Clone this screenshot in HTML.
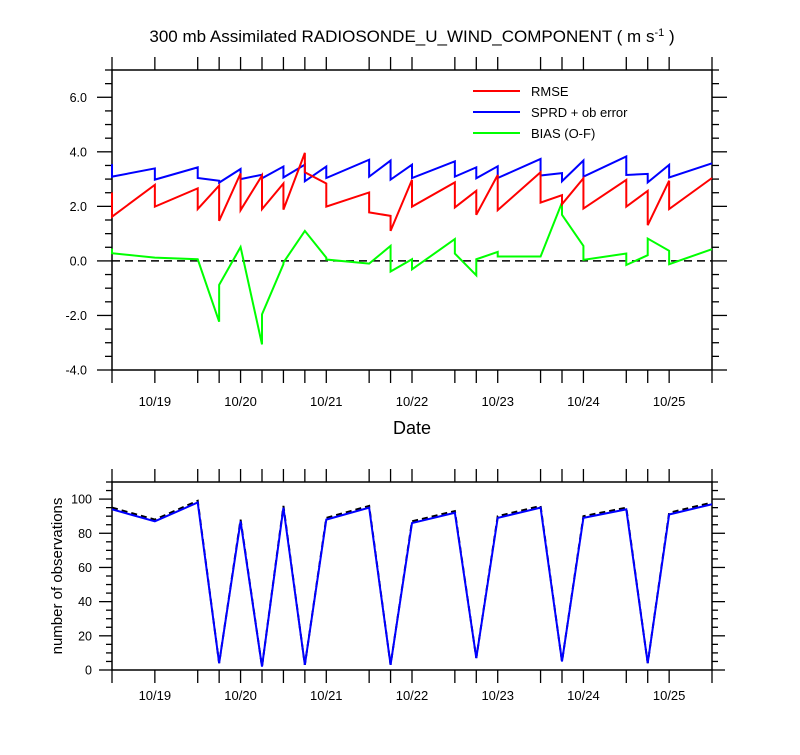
<!DOCTYPE html>
<html><head><meta charset="utf-8"><style>
body{margin:0;background:#fff;font-family:"Liberation Sans",sans-serif}
svg text{font-family:"Liberation Sans",sans-serif}
</style></head><body>
<svg id="chart" width="800" height="750" xmlns="http://www.w3.org/2000/svg">
<rect width="800" height="750" fill="#fff"/>
<text x="412" y="42" font-size="17" text-anchor="middle">300 mb Assimilated RADIOSONDE_U_WIND_COMPONENT ( m s<tspan dy="-6" font-size="11">-1</tspan><tspan dy="6"> )</tspan></text>
<g id="top"></g><g id="bot"></g>
<text x="412" y="434" font-size="18" text-anchor="middle">Date</text>
<text transform="translate(62,576) rotate(-90)" font-size="15" text-anchor="middle">number of observations</text>
</svg>
<script>
const days=["10/19","10/20","10/21","10/22","10/23","10/24","10/25"];
const dayPos=[0.5,1.5,2.5,3.5,4.5,5.5,6.5];
const rmseT=[0,0,0.5,0.5,1,1,1.25,1.25,1.5,1.5,1.75,1.75,2,2,2.25,2.25,2.5,2.5,3,3,3.25,3.25,3.5,3.5,4,4,4.25,4.25,4.5,4.5,5,5,5.25,5.25,5.5,5.5,6,6,6.25,6.25,6.5,6.5,7];
const rmseV=[2.51,1.62,2.79,1.99,2.66,1.9,2.76,1.47,3.21,1.86,3.13,1.9,2.84,1.88,3.96,3.25,2.84,1.99,2.51,1.78,1.65,1.1,2.97,1.99,2.88,1.96,2.57,1.69,3.15,1.86,3.25,2.14,2.41,2.08,3.03,1.92,2.97,1.99,2.57,1.31,2.94,1.9,3.04];
const sprdT=rmseT;
const sprdV=[3.55,3.09,3.39,2.98,3.43,3.04,2.94,2.87,3.37,3.0,3.16,3.03,3.46,3.06,3.53,2.92,3.46,3.04,3.71,3.09,3.68,2.98,3.53,3.04,3.65,3.09,3.43,3.03,3.47,3.04,3.74,3.13,3.22,2.92,3.68,3.09,3.83,3.15,3.19,2.88,3.52,3.06,3.58];
const biasT=rmseT;
const biasV=[0.45,0.28,0.12,0.12,0.06,0.06,-2.23,-0.88,0.51,0.51,-3.06,-1.96,-0.12,-0.06,1.1,1.1,0.12,0.05,-0.1,-0.1,0.55,-0.39,0.06,-0.31,0.8,0.27,-0.53,0.06,0.33,0.16,0.16,0.16,2.14,1.69,0.55,0.04,0.27,-0.15,0.21,0.82,0.37,-0.12,0.43];
const obsT=[0,0.5,1,1.25,1.5,1.75,2,2.25,2.5,3,3.25,3.5,4,4.25,4.5,5,5.25,5.5,6,6.25,6.5,7];
const obsA=[95,88,99,4,88,2,96,3,89,96,3,87,93,7,90,96,5,90,95,4,92,98];
const obsB=[94,87,98,4,87,2,95,3,88,95,3,86,92,7,89,95,5,89,94,4,91,97];
const yTicksTop=[-4,-2,0,2,4,6];
const yTicksBot=[0,20,40,60,80,100];
const xTickT=[0,0.5,1,1.25,1.5,1.75,2,2.25,2.5,3,3.25,3.5,4,4.25,4.5,5,5.25,5.5,6,6.25,6.5,7];
const NS="http://www.w3.org/2000/svg";
function mk(p,t,a){const e=document.createElementNS(NS,t);for(const k in a)e.setAttribute(k,a[k]);p.appendChild(e);return e;}
const X0=112,X1=712;
const x=t=>X0+(X1-X0)*t/7;
function panel(g,Y0,Y1,ymin,ymax,yt,minorStep,name,ML,mL,labGap,xLab){
  const y=v=>Y1-(Y1-Y0)*(v-ymin)/(ymax-ymin);
  for(let v=ymin;v<=ymax+1e-9;v+=minorStep){const yy=y(v);const maj=yt.some(q=>Math.abs(q-v)<1e-9);const L=maj?ML:mL;
    let l=mk(g,'line',{x1:X0,x2:X0-L,y1:yy,y2:yy,stroke:'#000','stroke-width':1.3});
    
    
    mk(g,'line',{x1:X1,x2:X1+L,y1:yy,y2:yy,stroke:'#000','stroke-width':1.3});}
  yt.forEach(v=>{const t=mk(g,'text',{x:X0-labGap,y:y(v)+4.5,'font-size':12.5,'text-anchor':'end'});t.textContent=name==='top'?v.toFixed(1):v;
    
    });
  xTickT.forEach(t=>{
    mk(g,'line',{x1:x(t),x2:x(t),y1:Y1,y2:Y1+13,stroke:'#000','stroke-width':1.3});
    mk(g,'line',{x1:x(t),x2:x(t),y1:Y0,y2:Y0-13,stroke:'#000','stroke-width':1.3});});
  days.forEach((d,i)=>{const t=mk(g,'text',{x:x(dayPos[i]),y:Y1+xLab,'font-size':13,'text-anchor':'middle'});t.textContent=d;
    
    });
  const r=mk(g,'rect',{x:X0,y:Y0,width:X1-X0,height:Y1-Y0,fill:'none',stroke:'#000','stroke-width':1.5});
  
  
  return y;
}
function line(g,T,V,y,col,dash,nm){const p=mk(g,'polyline',{points:T.map((t,i)=>x(t)+','+y(V[i])).join(' '),fill:'none',stroke:col,'stroke-width':2});
  if(dash)p.setAttribute('stroke-dasharray',dash);
  
  }
const gt=document.getElementById('top');
const yT=panel(gt,70,370,-4,7,yTicksTop,0.5,'top',15,7,25,36);
const z=mk(gt,'line',{x1:X0,x2:X1,y1:yT(0),y2:yT(0),stroke:'#000','stroke-width':1.5,'stroke-dasharray':'8,5'});


line(gt,biasT,biasV,yT,'#00ff00',null,'bias-line');
line(gt,sprdT,sprdV,yT,'#0000ff',null,'sprd-line');
line(gt,rmseT,rmseV,yT,'#ff0000',null,'rmse-line');
[['RMSE','#ff0000',91],['SPRD + ob error','#0000ff',112],['BIAS (O-F)','#00ff00',133]].forEach(([l,c,yy])=>{
  const g=mk(gt,'g',{});
  
  
  mk(g,'line',{x1:473,x2:520,y1:yy,y2:yy,stroke:c,'stroke-width':2});
  const t=mk(g,'text',{x:531,y:yy+5,'font-size':13});t.textContent=l;});
const gb=document.getElementById('bot');
const yB=panel(gb,482,670,0,110,yTicksBot,5,'bottom',13,6,20,30);
line(gb,obsT,obsA,yB,'#000','6,4','obs-total-line');
line(gb,obsT,obsB,yB,'#0000ff',null,'obs-used-line');
</script>
</body></html>
